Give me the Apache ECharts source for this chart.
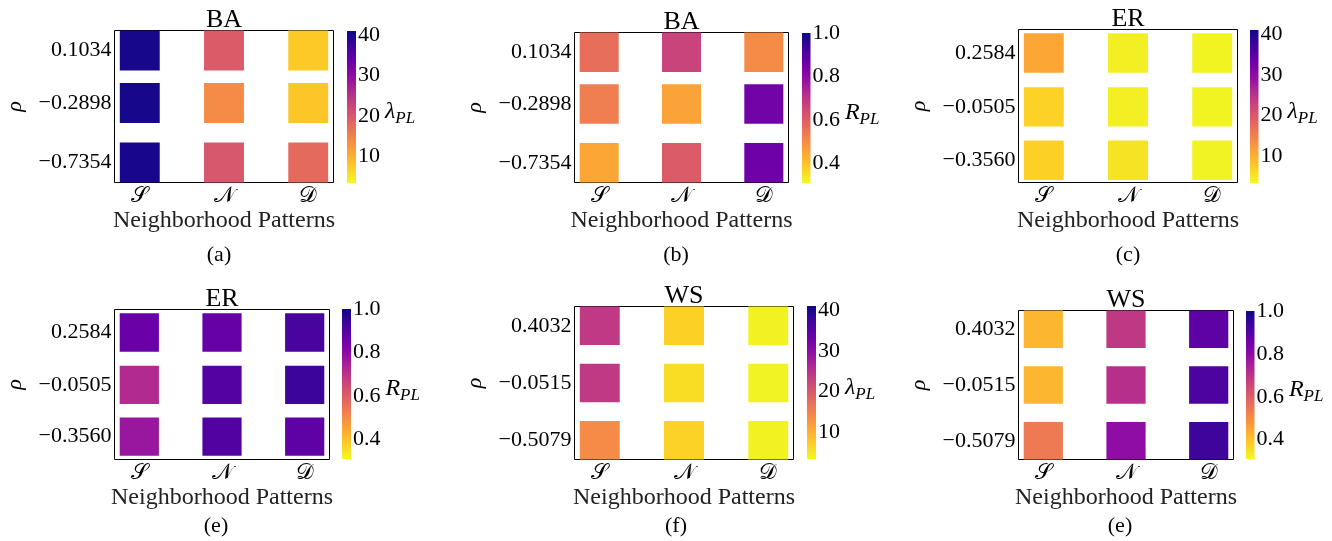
<!DOCTYPE html>
<html>
<head>
<meta charset="utf-8">
<script src="https://cdn.jsdelivr.net/npm/echarts@6/dist/echarts.min.js"></script>
<style>
  html, body { margin: 0; padding: 0; background: #fff; }
  #chart { width: 1332px; height: 541px; }
</style>
</head>
<body>
<div id="chart"></div>
<script>
// Neighborhood patterns on the x axis
const patterns = ['\u{1D4AE}', '\u{1D4A9}', '\u{1D49F}'];

// Assortativity levels (rho) of each network family
const rhoBA = [0.1034, -0.2898, -0.7354];
const rhoER = [0.2584, -0.0505, -0.3560];
const rhoWS = [0.4032, -0.0515, -0.5079];

// One row per pattern (S, N, D); entries follow the rho order above
const lambdaBA = [[40.3, 40.3, 40.2], [19.6, 14.0, 20.2], [7.6, 8.0, 17.8]];
const rplBA    = [[0.565, 0.531, 0.448], [0.662, 0.455, 0.607], [0.503, 0.848, 0.855]];
const lambdaER = [[11.0, 6.9, 7.1], [4.4, 4.4, 5.4], [3.9, 3.9, 4.0]];
const rplER    = [[0.862, 0.724, 0.772], [0.869, 0.897, 0.903], [0.917, 0.938, 0.883]];
const lambdaWS = [[24.1, 23.9, 14.0], [7.1, 5.9, 6.9], [4.1, 4.0, 4.1]];
const rplWS    = [[0.420, 0.420, 0.538], [0.690, 0.710, 0.793], [0.883, 0.910, 0.934]];

// Colour-bar ranges and tick labels
const lambdaRange = [3.5, 41];
const rplRange = [0.31, 1.0];
const lambdaTicks = [10, 20, 30, 40];
const rplTicks = [0.4, 0.6, 0.8, 1.0];

const panelTitles = ['BA', 'BA', 'ER', 'ER', 'WS', 'WS'];
const captions = ['(a)', '(b)', '(c)', '(e)', '(f)', '(e)'];

// plasma colormap, from t = 0 (dark) to t = 1 (yellow)
const plasma = ['#0d0887', '#41049d', '#6a00a8', '#8f0da4', '#b12a90', '#cc4778',
                '#e16462', '#f2844b', '#fca636', '#fcce25', '#f0f921'];
const plasmaLowToHigh = plasma.slice().reverse();

const FONT = '"Liberation Serif", "DejaVu Serif", serif';

const lambdaMetric = { range: lambdaRange, ticks: lambdaTicks, sym: 'λ', fmt: v => String(v) };
const rplMetric = { range: rplRange, ticks: rplTicks, sym: 'R', fmt: v => v.toFixed(1) };

// layout of each subplot: grid box, colour-bar box, caption centre
const panels = [
  { rho: rhoBA, values: lambdaBA, metric: lambdaMetric, halfH: 0.150,
    grid: [114.5, 30.5, 219, 152], bar: [347, 31, 9, 152], cap: [219, 255] },
  { rho: rhoBA, values: rplBA, metric: rplMetric, halfH: 0.150,
    grid: [574.5, 32.5, 214, 150], bar: [802, 33, 8.5, 150], cap: [676, 255] },
  { rho: rhoER, values: lambdaER, metric: lambdaMetric, halfH: 0.113,
    grid: [1018.5, 29.5, 219, 153], bar: [1250, 30, 8.5, 153], cap: [1128, 255],
    yLim: [-0.484, 0.393] },
  { rho: rhoER, values: rplER, metric: rplMetric, halfH: 0.113,
    grid: [114.5, 309.5, 215, 150], bar: [342, 309, 9, 150], cap: [216, 526],
    yLim: [-0.491, 0.394] },
  { rho: rhoWS, values: lambdaWS, metric: lambdaMetric, halfH: 0.153,
    grid: [574.5, 306.5, 219, 153], bar: [807, 306, 9, 153], cap: [676, 526] },
  { rho: rhoWS, values: rplWS, metric: rplMetric, halfH: 0.153,
    grid: [1018.5, 310.5, 215, 149], bar: [1246, 311, 8.5, 148], cap: [1120, 526] }
];

const HALF_W = 0.237;
const X_LIM = [-0.3, 2.3];
const fmtRho = v => (v < 0 ? '\u2212' : '') + Math.abs(v).toFixed(4);

const grids = [], xAxes = [], yAxes = [], series = [], visualMaps = [], graphics = [];

function cellRenderer(halfW, halfH) {
  return function (params, api) {
    const x = api.value(0), y = api.value(1);
    const p0 = api.coord([x - halfW, y + halfH]);
    const p1 = api.coord([x + halfW, y - halfH]);
    return {
      type: 'rect',
      shape: { x: p0[0], y: p0[1], width: p1[0] - p0[0], height: p1[1] - p0[1] },
      style: { fill: api.visual('color') }
    };
  };
}

function barRenderer(params, api) {
  const p0 = api.coord([0, api.value(2)]);
  const p1 = api.coord([1, api.value(1)]);
  return {
    type: 'rect',
    shape: { x: p0[0], y: p0[1], width: p1[0] - p0[0], height: p1[1] - p0[1] },
    style: {
      fill: new echarts.graphic.LinearGradient(0, 0, 0, 1,
        plasma.map((c, i) => ({ offset: i / (plasma.length - 1), color: c })))
    }
  };
}

panels.forEach((p, i) => {
  const [gl, gt, gw, gh] = p.grid;
  const rhoMax = Math.max(...p.rho), rhoMin = Math.min(...p.rho);
  const yLim = p.yLim || [rhoMin - p.halfH, rhoMax + p.halfH];

  // heatmap cells
  grids.push({ left: gl, top: gt, width: gw, height: gh, show: true,
               borderColor: '#000', borderWidth: 1, backgroundColor: 'transparent' });
  xAxes.push({
    gridIndex: i, type: 'value', min: X_LIM[0], max: X_LIM[1],
    axisLine: { show: false }, splitLine: { show: false },
    axisTick: { show: false },
    axisLabel: { customValues: [0, 1, 2], formatter: v => patterns[Math.round(v)],
                 margin: 3, fontSize: 22, fontFamily: FONT, color: '#000' },
    name: 'Neighborhood Patterns', nameLocation: 'middle', nameGap: 21,
    nameTextStyle: { fontSize: 24, fontFamily: FONT, color: '#222' }
  });
  yAxes.push({
    gridIndex: i, type: 'value', min: yLim[0], max: yLim[1],
    axisLine: { show: false }, splitLine: { show: false },
    axisTick: { show: true, length: 3, customValues: p.rho, lineStyle: { color: '#000' } },
    axisLabel: { customValues: p.rho, formatter: fmtRho, margin: 3,
                 fontSize: 22, fontFamily: FONT, color: '#000' },
    name: 'ρ', nameLocation: 'middle', nameGap: 88, nameRotate: 90,
    nameTextStyle: { fontSize: 22, fontFamily: FONT, fontStyle: 'italic', color: '#000' }
  });
  const data = [];
  p.values.forEach((col, j) => col.forEach((v, k) => data.push([j, p.rho[k], v])));
  series.push({
    type: 'custom', xAxisIndex: i, yAxisIndex: i, coordinateSystem: 'cartesian2d',
    renderItem: cellRenderer(HALF_W, p.halfH), encode: { x: 0, y: 1 },
    data: data, silent: true
  });
  visualMaps.push({
    type: 'continuous', show: false, seriesIndex: i, dimension: 2,
    min: p.metric.range[0], max: p.metric.range[1],
    inRange: { color: plasmaLowToHigh }
  });

  graphics.push({
    type: 'text', x: gl + gw / 2, y: gt - 10,
    style: { text: panelTitles[i], font: '26px ' + FONT, fill: '#000',
             align: 'center', verticalAlign: 'middle',
             textAlign: 'center', textVerticalAlign: 'middle' }
  });
  graphics.push({
    type: 'text', x: p.cap[0], y: p.cap[1],
    style: { text: captions[i], font: '22px ' + FONT, fill: '#000',
             align: 'center', verticalAlign: 'middle',
             textAlign: 'center', textVerticalAlign: 'middle' }
  });
});

// colour bars
panels.forEach((p, i) => {
  const [bl, bt, bw, bh] = p.bar;
  const gi = panels.length + i;
  const m = p.metric;
  grids.push({ left: bl, top: bt, width: bw, height: bh, show: false });
  xAxes.push({ gridIndex: gi, type: 'value', min: 0, max: 1, show: false });
  yAxes.push({
    gridIndex: gi, type: 'value', position: 'right',
    min: m.range[0], max: m.range[1],
    axisLine: { show: false }, axisTick: { show: false }, splitLine: { show: false },
    axisLabel: { customValues: m.ticks, formatter: m.fmt, margin: 2,
                 fontSize: 22, fontFamily: FONT, color: '#000' },
    name: '{m|' + m.sym + '}{s|PL}', nameLocation: 'middle', nameRotate: 0,
    nameGap: m.sym === 'λ' ? 21 : 27,
    nameTextStyle: {
      rich: {
        m: { fontSize: 24, fontFamily: FONT, fontStyle: 'italic', color: '#000',
             padding: [10, 0, 0, 0] },
        s: { fontSize: 17, fontFamily: FONT, fontStyle: 'italic', color: '#000',
             padding: [24, 0, 0, 0] }
      }
    }
  });
  series.push({
    type: 'custom', xAxisIndex: gi, yAxisIndex: gi, coordinateSystem: 'cartesian2d',
    renderItem: barRenderer, data: [[0, m.range[0], m.range[1]]], silent: true
  });
});

const chart = echarts.init(document.getElementById('chart'), null, { renderer: 'canvas' });
chart.setOption({
  animation: false,
  backgroundColor: '#fff',
  grid: grids, xAxis: xAxes, yAxis: yAxes,
  visualMap: visualMaps, series: series, graphic: graphics
});
</script>
</body>
</html>
